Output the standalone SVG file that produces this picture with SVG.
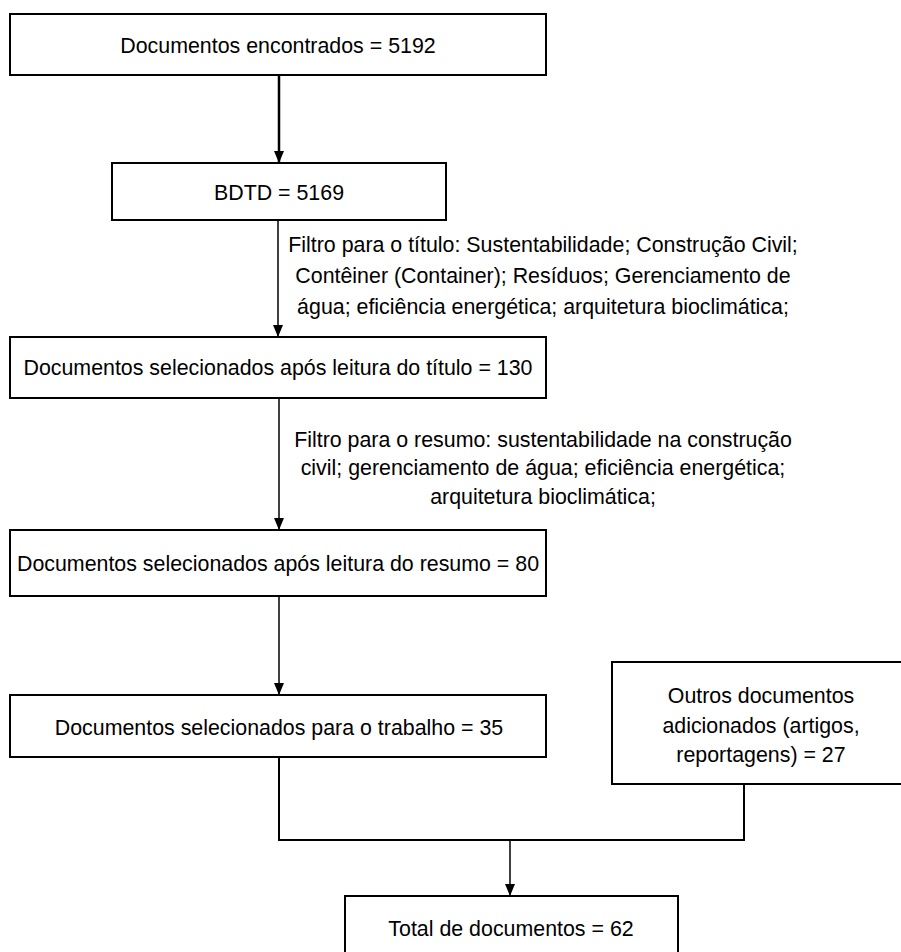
<svg xmlns="http://www.w3.org/2000/svg" width="901" height="952" viewBox="0 0 901 952">
<defs>
<style>
.box{fill:#fff;stroke:#000;stroke-width:2}
.t{font-family:"Liberation Sans",Arial,sans-serif;font-size:23px;fill:#000;text-anchor:middle;transform-box:fill-box;transform-origin:center;transform:scaleX(0.93)}
.c{fill:none;stroke:#000;stroke-width:1.5}
</style>
<marker id="ah" markerWidth="12" markerHeight="10" refX="12" refY="5" orient="auto" markerUnits="userSpaceOnUse" viewBox="0 0 12 10">
<path d="M0,0 L12,5 L0,10 Z" fill="#000"/>
</marker>
</defs>
<rect width="901" height="952" fill="#fff"/>
<g id="connectors">
<line class="c" x1="279" y1="75" x2="279" y2="163" style="stroke-width:2.5" marker-end="url(#ah)"/>
<line class="c" x1="278" y1="220" x2="278" y2="337" marker-end="url(#ah)"/>
<line class="c" x1="279" y1="398" x2="279" y2="530" marker-end="url(#ah)"/>
<line class="c" x1="279" y1="596" x2="279" y2="695" marker-end="url(#ah)"/>
<polyline class="c" points="279,757 279,840 744,840 744,784" style="stroke-width:2"/>
<line class="c" x1="510" y1="840" x2="510" y2="896" marker-end="url(#ah)"/>
<g id="label-filtro-titulo">
<text class="t" x="543" y="252">Filtro para o título: Sustentabilidade; Construção Civil;</text>
<text class="t" x="543" y="283">Contêiner (Container); Resíduos; Gerenciamento de</text>
<text class="t" x="543" y="314">água; eficiência energética; arquitetura bioclimática;</text>
</g>
<g id="label-filtro-resumo">
<text class="t" x="543" y="447">Filtro para o resumo: sustentabilidade na construção</text>
<text class="t" x="543" y="475">civil; gerenciamento de água; eficiência energética;</text>
<text class="t" x="543" y="504">arquitetura bioclimática;</text>
</g>
</g>
<g id="n1"><rect class="box" x="10" y="14" width="536" height="61"/><text class="t" x="278" y="53">Documentos encontrados = 5192</text></g>
<g id="n2"><rect class="box" x="112" y="163" width="334" height="57"/><text class="t" x="279" y="200">BDTD = 5169</text></g>
<g id="n3"><rect class="box" x="10" y="337" width="536" height="61"/><text class="t" x="278" y="375">Documentos selecionados após leitura do título = 130</text></g>
<g id="n4"><rect class="box" x="10" y="530" width="536" height="66"/><text class="t" x="278" y="571">Documentos selecionados após leitura do resumo = 80</text></g>
<g id="n5"><rect class="box" x="10" y="695" width="536" height="62"/><text class="t" x="279" y="735">Documentos selecionados para o trabalho = 35</text></g>
<g id="n6"><rect class="box" x="612" y="662" width="300" height="122"/>
<text class="t" x="761" y="703">Outros documentos</text>
<text class="t" x="761" y="733">adicionados (artigos,</text>
<text class="t" x="761" y="762">reportagens) = 27</text></g>
<g id="n7"><rect class="box" x="345" y="896" width="333" height="70"/><text class="t" x="511" y="936">Total de documentos = 62</text></g>
</svg>
